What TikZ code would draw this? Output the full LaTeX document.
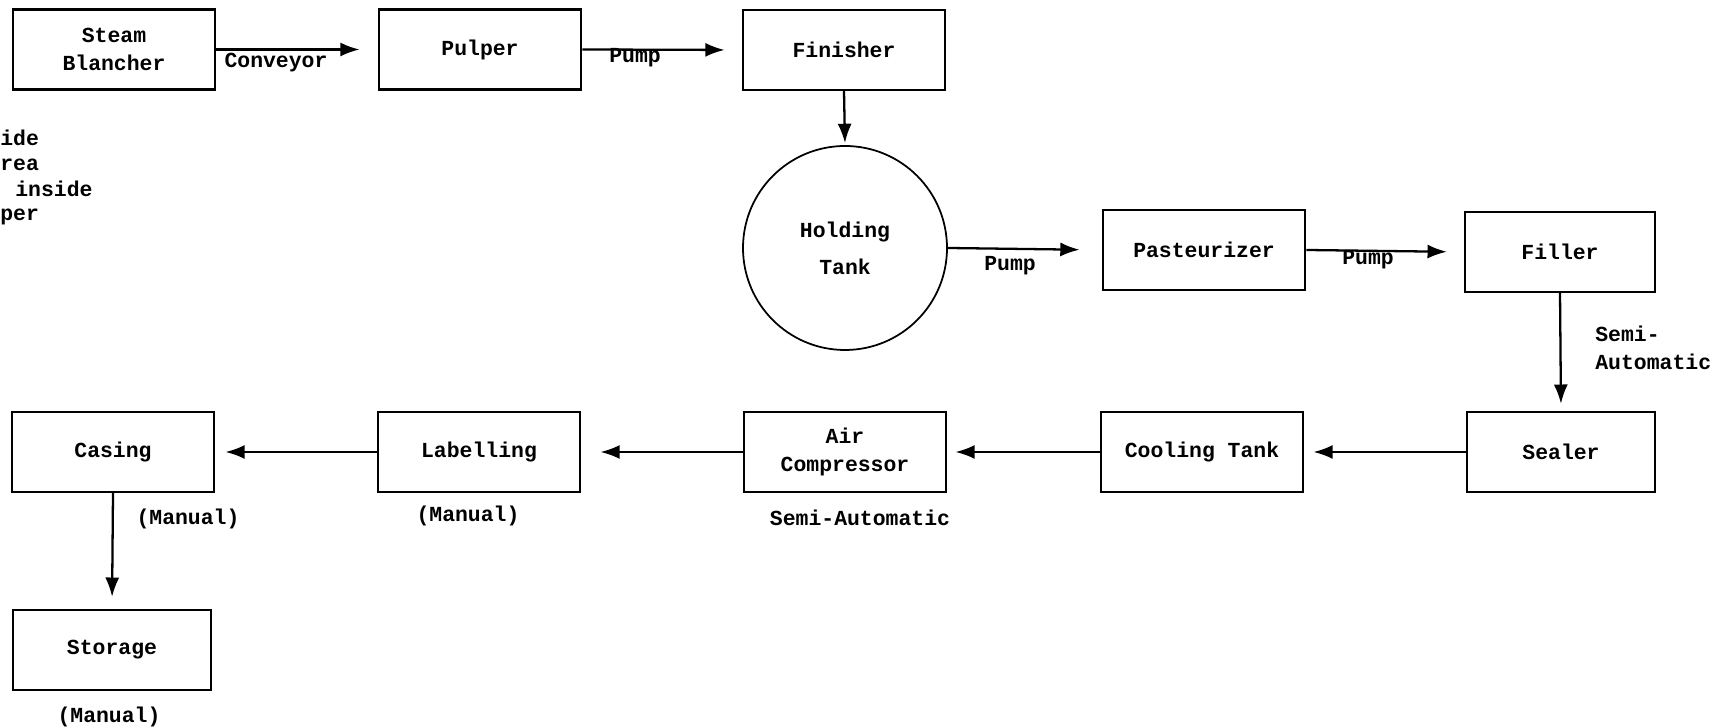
\documentclass[tikz,border=0pt]{standalone}
\usepackage{fontspec}
\setmainfont{Liberation Mono}
\usetikzlibrary{arrows.meta}

\tikzset{
  unit/.style={draw, line width=1.3pt, minimum width=4.05cm, minimum height=1.6cm, align=center},
  tank/.style={draw, circle, line width=1pt, minimum size=4.08cm, align=center},
  flow/.style={line width=1.3pt, -{Latex[length=11pt,width=8pt]}},
  note/.style={inner sep=0pt, align=left},
}

\begin{document}
\begin{tikzpicture}[font=\fontsize{12.2}{16}\selectfont\bfseries]
  \useasboundingbox (0,0) rectangle (34.3,14.56);
  % top row
  \node[unit] (blancher) at (2.28,13.57) {Steam\\Blancher};
  \node[unit] (pulper) at (9.60,13.57) {Pulper};
  \node[unit] (finisher) at (16.88,13.56) {Finisher};
  \node[tank] (tank) at (16.90,9.60) {Holding\\[5pt]Tank};
  \node[unit] (pasteurizer) at (24.08,9.56) {Pasteurizer};
  \node[unit, minimum width=3.8cm] (filler) at (31.20,9.52) {Filler};
  % bottom row
  \node[unit, minimum width=3.75cm] (sealer) at (31.22,5.52) {Sealer};
  \node[unit] (cooling) at (24.04,5.52) {Cooling Tank};
  \node[unit] (aircomp) at (16.90,5.52) {Air\\Compressor};
  \node[unit] (labelling) at (9.58,5.52) {Labelling};
  \node[unit] (casing) at (2.26,5.52) {Casing};
  \node[unit, minimum width=3.96cm] (storage) at (2.24,1.56) {Storage};

  \draw[flow, shorten >=0.36cm] (blancher.east) -- (pulper.west);
  \draw[flow, shorten >=0.34cm] (pulper.east) -- (finisher.west);
  \draw[flow, shorten >=0.04cm] (finisher.south) -- (tank.north);
  \draw[flow, shorten >=0.44cm] (tank.east) -- (pasteurizer.west);
  \draw[flow, shorten >=0.34cm] (pasteurizer.east) -- (filler.west);
  \draw[flow, shorten >=0.14cm] (filler.south) -- (sealer.north);
  \draw[flow, shorten >=0.18cm] (sealer.west) -- (cooling.east);
  \draw[flow, shorten >=0.16cm] (cooling.west) -- (aircomp.east);
  \draw[flow, shorten >=0.38cm] (aircomp.west) -- (labelling.east);
  \draw[flow, shorten >=0.20cm] (labelling.west) -- (casing.east);
  \draw[flow, shorten >=0.24cm] (casing.south) -- (storage.north);

  % labels
  \node (conveyor) at (5.52,13.30) {Conveyor};
  \node (pumpa) at (12.70,13.40) {Pump};
  \node (pumpb) at (20.20,9.24) {Pump};
  \node (pumpc) at (27.36,9.36) {Pump};
  \node[note, anchor=north west] (fillmode) at (31.90,8.05) {Semi-\\Automatic};
  \node (airmode) at (17.20,4.20) {Semi-Automatic};
  \node (labmode) at (9.36,4.24) {(Manual)};
  \node (casmode) at (3.76,4.18) {(Manual)};
  \node (stomode) at (2.18,0.22) {(Manual)};

  % cut-off text at the left edge
  \node[note, anchor=west] (fraga) at (0.0,11.80) {ide};
  \node[note, anchor=west] (fragb) at (0.0,11.26) {rea};
  \node[note, anchor=west] (fragc) at (0.30,10.78) {inside};
  \node[note, anchor=west] (fragd) at (0.0,10.22) {per};
\end{tikzpicture}
\end{document}
